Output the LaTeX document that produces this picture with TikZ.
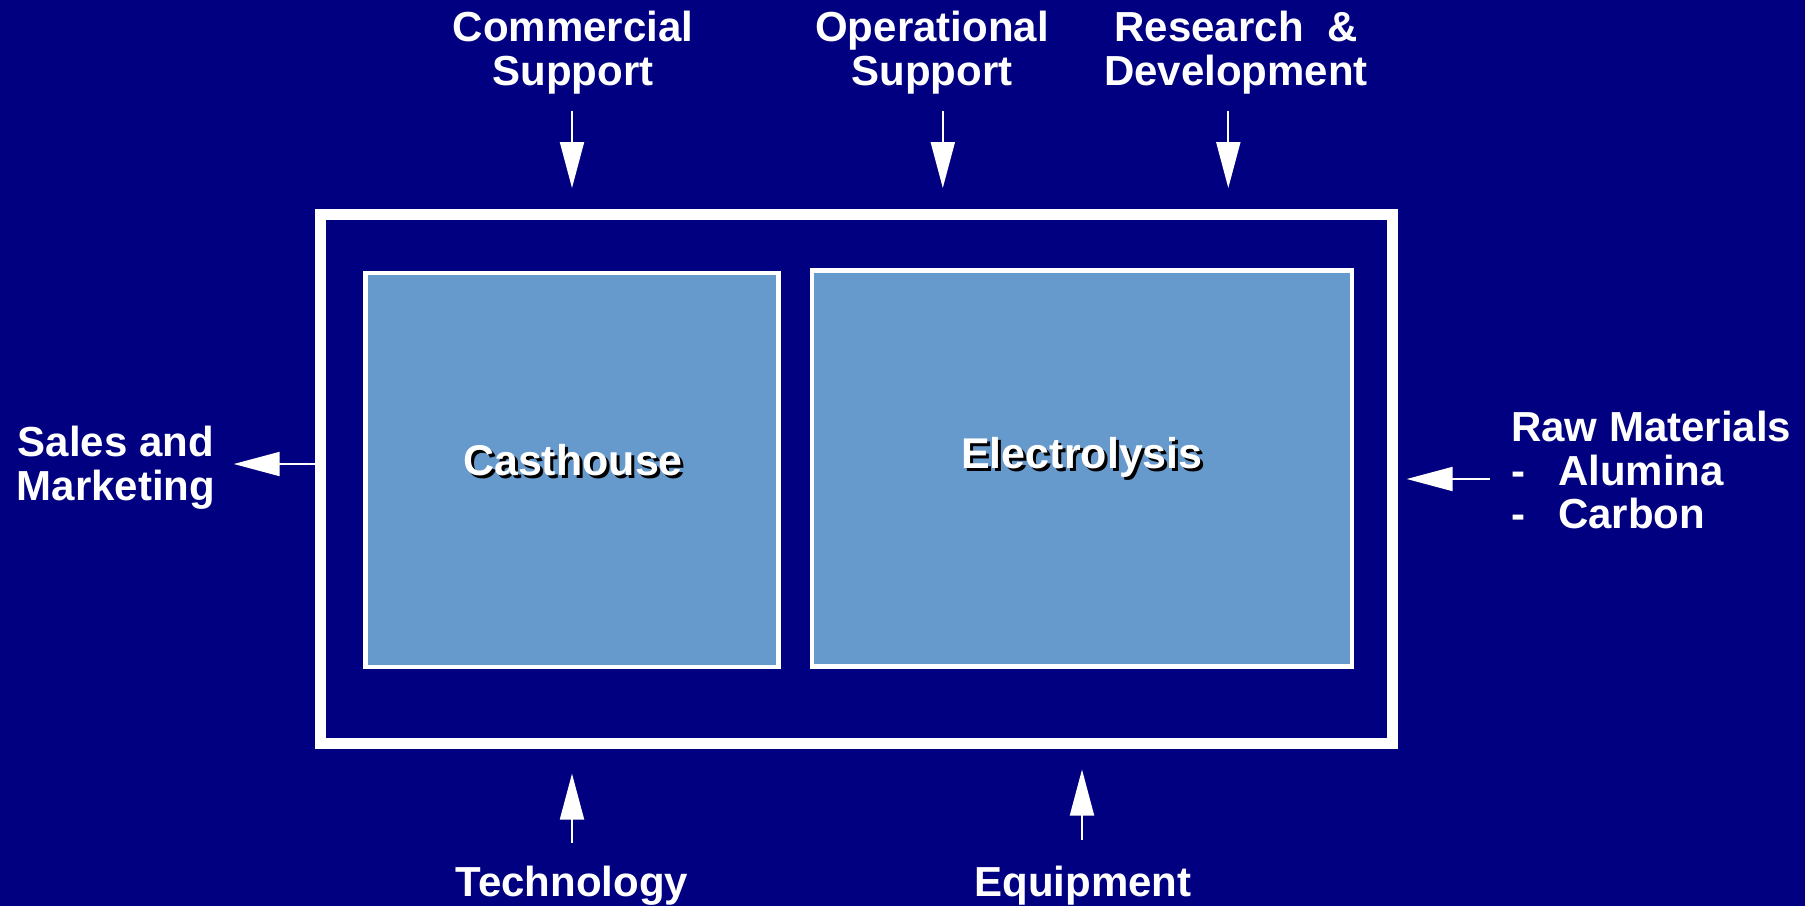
\documentclass[tikz,border=0pt]{standalone}
\usepackage{fontspec}
\setmainfont{Liberation Sans}
\usetikzlibrary{arrows.meta}
\definecolor{navy}{RGB}{0,0,128}
\definecolor{cellblue}{RGB}{102,153,204}
\begin{document}
\begin{tikzpicture}[x=1pt,y=-1pt,
  lbl/.style={text=white, font=\fontsize{42}{43.5}\selectfont\bfseries, inner sep=0pt, align=center, anchor=base},
  unitlbl/.style={font=\fontsize{43}{45}\selectfont\bfseries, inner sep=0pt, anchor=base},
  flow/.style={draw=white, line width=2pt, -{Triangle[length=46pt,width=24pt]}},
  plantbox/.style={draw=white, line width=11pt, inner sep=0pt},
  unitbox/.style={draw=white, fill=cellblue, line width=4.3pt, inner sep=0pt}
]
% background
\fill[navy] (0,0) rectangle (1805,906);
\useasboundingbox (0,0) rectangle (1805,906);

% plant boundary and the two production units
\node[plantbox, minimum width=1071.5pt, minimum height=529.2pt] (plant) at (856.25,479.1) {};
\node[unitbox, minimum width=413pt, minimum height=394pt] (cast) at (572,470) {};
\node[unitbox, minimum width=540.3pt, minimum height=396pt] (elec) at (1081.85,468.5) {};

% unit names with drop shadow
\node[unitlbl, text=black] (castshadow) at (576,478) {Casthouse};
\node[unitlbl, text=white] (castlabel) at (573,475) {Casthouse};
\node[unitlbl, text=black] (elecshadow) at (1085,471.3) {Electrolysis};
\node[unitlbl, text=white] (eleclabel) at (1082,468.3) {Electrolysis};

% external inputs and outputs (base anchor sits on the last line)
\node[lbl] (commercial) at (573,85) {Commercial\\Support};
\node[lbl] (operational) at (932,85) {Operational\\Support};
\node[lbl] (research) at (1236,85) {Research\ \ \&\\Development};
\node[lbl] (sales) at (116,500) {Sales and\\Marketing};
\node[lbl, align=left, anchor=base west] (raw) at (1511,528.5)
  {Raw Materials\\\makebox[47pt][l]{-}Alumina\\\makebox[47pt][l]{-}Carbon};
\node[lbl] (technology) at (572,896) {Technology};
\node[lbl] (equipment) at (1083,896) {Equipment};

% arrow end points
\coordinate (comA) at (572,110.5);   \coordinate (comB) at (572,188);
\coordinate (opA) at (942.8,110.5);  \coordinate (opB) at (942.8,188);
\coordinate (rdA) at (1228.3,110.5); \coordinate (rdB) at (1228.3,188);
\coordinate (techA) at (572,842.6);  \coordinate (techB) at (572,773.6);
\coordinate (eqA) at (1082,840);     \coordinate (eqB) at (1082,769.5);
\coordinate (salesA) at (315,464);   \coordinate (salesB) at (233.7,464);
\coordinate (rawA) at (1490,479);    \coordinate (rawB) at (1406.7,479);

\draw[flow] (comA) -- (comB);
\draw[flow] (opA) -- (opB);
\draw[flow] (rdA) -- (rdB);
\draw[flow] (techA) -- (techB);
\draw[flow] (eqA) -- (eqB);
\draw[flow] (salesA) -- (salesB);
\draw[flow] (rawA) -- (rawB);
\end{tikzpicture}
\end{document}
